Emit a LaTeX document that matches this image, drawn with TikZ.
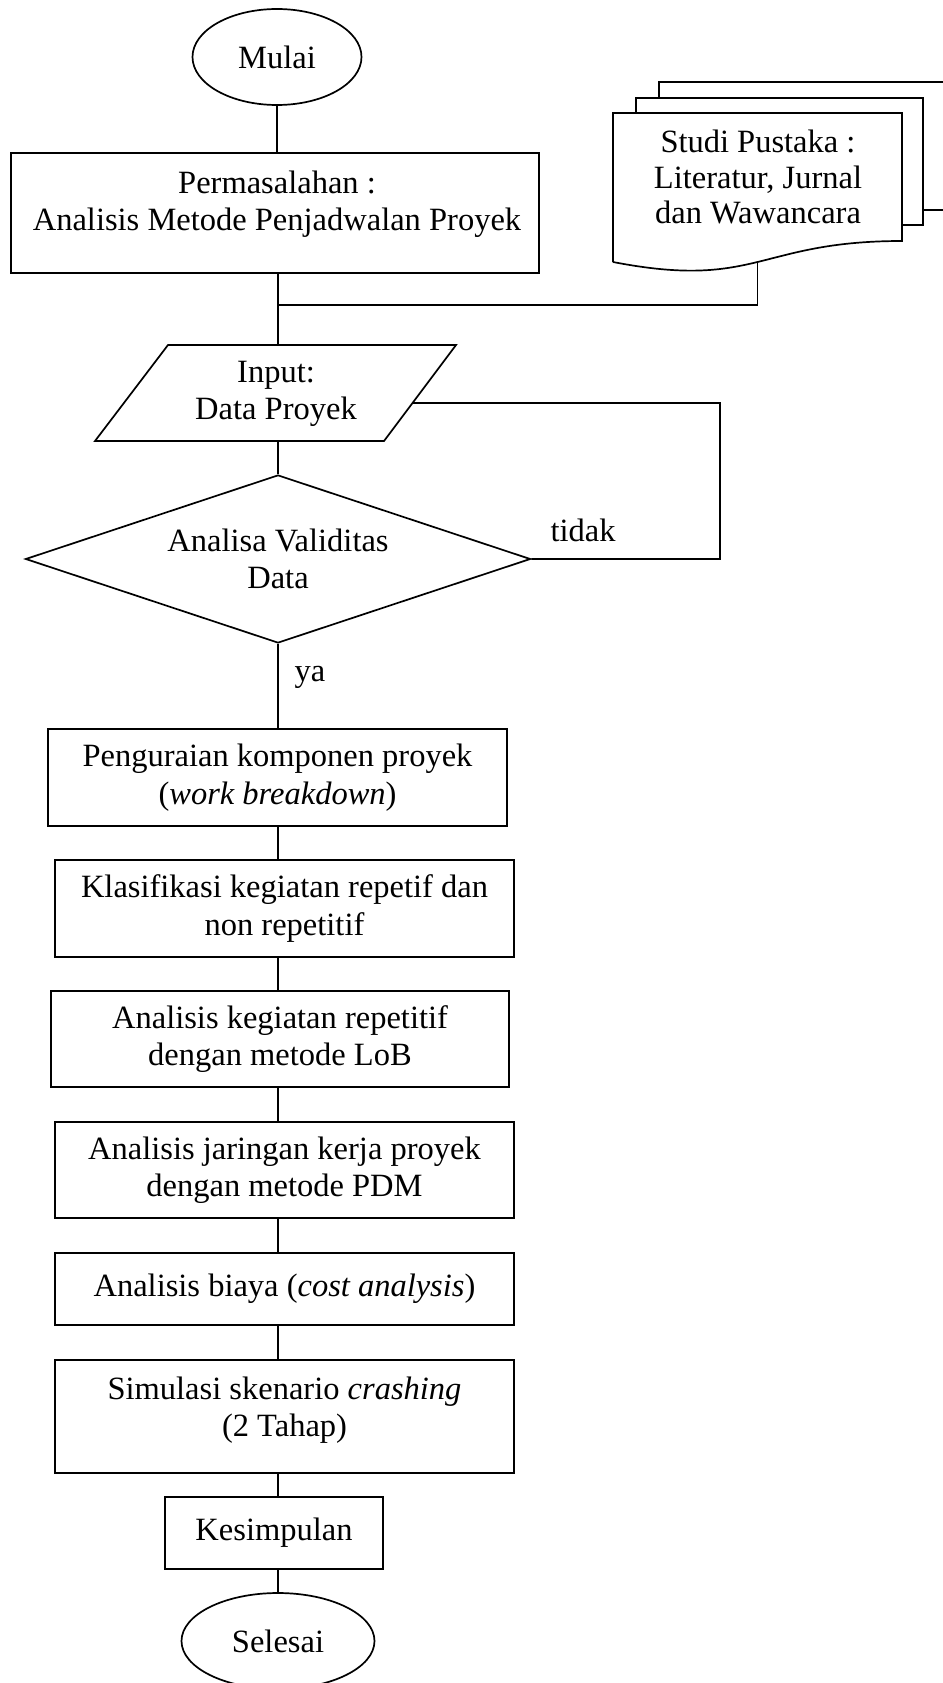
\documentclass[tikz,border=0pt]{standalone}
\usepackage{fontspec}
\setmainfont{Liberation Serif}
\usetikzlibrary{shapes.geometric,calc}
\begin{document}
\begin{tikzpicture}[x=1pt,y=-1pt,
  every node/.style={font=\fontsize{32.5}{37.5}\selectfont},
  ln/.style={line width=1.7pt, line join=miter},
  box/.style={draw, line width=1.7pt, rectangle, inner sep=0pt, align=center},
  term/.style={draw, line width=1.7pt, ellipse, inner sep=0pt, align=center},
  dec/.style={draw, line width=1.7pt, diamond, shape aspect=3, inner sep=0pt, align=center},
  txt/.style={inner sep=0pt, align=center}]
\useasboundingbox (0,0) rectangle (942,1683);
\coordinate (m) at (278,0);
% start
\node[term, minimum width=169, minimum height=96] (start) at (277,57) {Mulai};
% problem
\node[box, minimum width=528, minimum height=120] (pm) at (275,213) {};
\node[txt] (pmt) at (277,204) {Permasalahan :\\Analisis Metode Penjadwalan Proyek};
% document stack
\coordinate (dtl) at (613,113);
\coordinate (dtr) at (902,113);
\coordinate (dbr) at (902,241);
\coordinate (dbl) at (613,262);
\coordinate (docb) at (757.5,262);
\draw[ln] (659,98) -- (659,82) -- (946,82) -- (946,210) -- (923,210);
\draw[ln] (636,113) -- (636,98) -- (923,98) -- (923,225) -- (902,225);
\draw[ln] (dbl) -- (dtl) -- (dtr) -- (dbr) .. controls (757.5,241) and (757.5,290) .. (dbl);
\node[txt, font=\fontsize{32.5}{35.5}\selectfont] (doc) at (758,177) {Studi Pustaka :\\Literatur, Jurnal\\dan Wawancara};
% input parallelogram
\coordinate (ptl) at (168,345);
\coordinate (ptr) at (456,345);
\coordinate (pbr) at (384,441);
\coordinate (pbl) at (95,441);
\draw[ln] (ptl) -- (ptr) -- (pbr) -- (pbl) -- cycle;
\node[txt] (inp) at (276,394) {Input:\\Data Proyek};
% decision
\node[dec, minimum width=505, minimum height=168] (dia) at (278,559) {Analisa Validitas\\Data};
% process boxes
\node[box, minimum width=459, minimum height=97] (b1) at (277.5,777.5) {Penguraian komponen proyek\\(\textit{work breakdown})};
\node[box, minimum width=459, minimum height=97] (b2) at (284.5,908.5) {Klasifikasi kegiatan repetif dan\\non repetitif};
\node[box, minimum width=458, minimum height=96] (b3) at (280,1039) {Analisis kegiatan repetitif\\dengan metode LoB};
\node[box, minimum width=459, minimum height=96] (b4) at (284.5,1170) {Analisis jaringan kerja proyek\\dengan metode PDM};
\node[box, minimum width=459, minimum height=72] (b5) at (284.5,1289) {Analisis biaya (\textit{cost analysis})};
\node[box, minimum width=459, minimum height=113] (b6) at (284.5,1416.5) {};
\node[txt] (b6t) at (284.5,1410) {Simulasi skenario \textit{crashing}\\(2 Tahap)};
\node[box, minimum width=218, minimum height=72] (b7) at (274,1533) {Kesimpulan};
\node[term, minimum width=193, minimum height=96] (end) at (278,1641) {Selesai};
% labels
\node[txt] (no) at (583,530) {tidak};
\node[txt] (yes) at (310,677) {ya};
% connectors
\coordinate (jn) at (278,305);
\coordinate (lp) at (720,403);
\coordinate (pin) at ($(ptr)!0.604!(pbr)$);
\draw[ln] (start.south) -- (start.south |- pm.north);
\draw[ln] (pm.south -| m) -- (m |- ptl);
\draw[ln] (docb) -- (docb |- jn) -- (jn);
\draw[ln] (m |- pbl) -- (dia.north);
\draw[ln] (dia.east) -| (lp) -- (pin);
\draw[ln] (dia.south) -- (m |- b1.north);
\draw[ln] (m |- b1.south) -- (m |- b2.north);
\draw[ln] (m |- b2.south) -- (m |- b3.north);
\draw[ln] (m |- b3.south) -- (m |- b4.north);
\draw[ln] (m |- b4.south) -- (m |- b5.north);
\draw[ln] (m |- b5.south) -- (m |- b6.north);
\draw[ln] (m |- b6.south) -- (m |- b7.north);
\draw[ln] (m |- b7.south) -- (end.north);
\end{tikzpicture}
\end{document}
